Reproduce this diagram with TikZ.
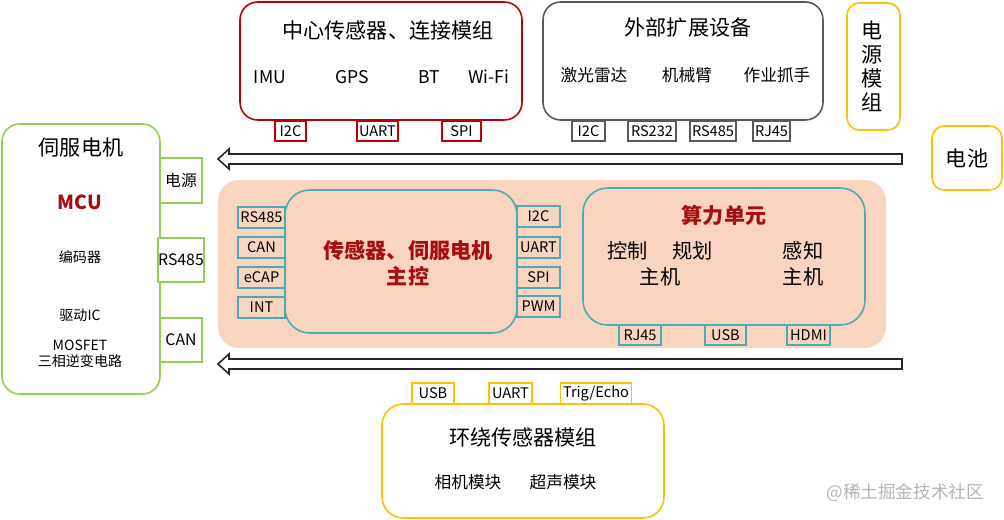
\documentclass[tikz,border=0pt]{standalone}
\usepackage{fontspec}
\setmainfont{Noto Sans CJK SC}
\usepackage{xcolor}
\usepackage{tikz}
\usetikzlibrary{calc,positioning}
\definecolor{servogreen}{HTML}{92D050}
\definecolor{sensred}{HTML}{C00000}
\definecolor{extgrey}{HTML}{595959}
\definecolor{pwryellow}{HTML}{FFC000}
\definecolor{ctrlteal}{HTML}{4AABB4}
\definecolor{peach}{HTML}{F9D4C0}
\definecolor{titlered}{HTML}{A50F0F}
\definecolor{markgrey}{HTML}{B4B4B4}
\tikzset{
  mainbox/.style  = {draw, line width=0.9pt, rounded corners=10pt, fill=white,
                     inner sep=0pt},
  portbox/.style  = {draw, line width=0.9pt, fill=white, inner sep=0pt,
                     font=\fontsize{8.3}{9}\selectfont, minimum height=0.4cm},
  bigtxt/.style   = {font=\fontsize{12}{13}\selectfont, align=center},
  itemtxt/.style  = {font=\fontsize{9.5}{10}\selectfont, align=center},
  smalltxt/.style = {font=\fontsize{8}{10}\selectfont, align=center},
  redtxt/.style   = {font=\fontsize{12}{15}\selectfont\bfseries, color=titlered, align=center},
  hollowarrow/.style = {draw=black!85, line width=0.9pt, fill=white, line join=miter},
}

\begin{document}
\begin{tikzpicture}[x=0.02cm, y=-0.02cm]
    \useasboundingbox (0,0) rectangle (1004,520);

    % servo
    \node[mainbox, draw=servogreen, minimum width=3.16cm, minimum height=5.4cm] (servo) at (81,259) {};
    \node[bigtxt] (servot) at (81,148) {伺服电机};
    \node[redtxt, font=\fontsize{11}{13}\selectfont\bfseries] (mcu) at (80,202) {MCU};
    \node[smalltxt] (enc) at (80,257) {编码器};
    \node[smalltxt] (drv) at (80,315) {驱动IC};
    \node[smalltxt, font=\fontsize{8}{9.2}\selectfont] (inv) at (80,354) {MOSFET\\三相逆变电路};
    \foreach \yy/\hh/\name/\lbl in {180.5/0.9/sp1/电源, 260/0.88/sp2/RS485, 340/0.88/sp3/CAN}
      {\node[portbox, draw=servogreen, minimum width=0.84cm, minimum height=\hh cm,
             font=\fontsize{9}{10}\selectfont] (\name) at (181,\yy) {\lbl};}

    % central sensors
    \node[mainbox, draw=sensred, minimum width=5.64cm, minimum height=2.36cm] (sens) at (381,61) {};
    \node[bigtxt] (senst) at (388,30) {中心传感器、连接模组};
    \foreach \xx/\lbl in {270/IMU, 352/GPS, 429/BT, 489/Wi-Fi}
      {\node[itemtxt, font=\fontsize{10}{11}\selectfont] at (\xx,77) {\lbl};}
    \foreach \xx/\ww/\name/\lbl in {290.5/0.62/sn1/I2C, 377.5/0.82/sn2/UART, 461.5/0.78/sn3/SPI}
      {\node[portbox, draw=sensred, minimum width=\ww cm] (\name) at (\xx,131) {\lbl};}

    % external devices
    \node[mainbox, draw=extgrey, minimum width=5.6cm, minimum height=2.36cm] (ext) at (683,61) {};
    \node[bigtxt] (extt) at (688,28) {外部扩展设备};
    \foreach \xx/\lbl in {594/激光雷达, 687/机械臂, 777/作业抓手}
      {\node[itemtxt] at (\xx,75) {\lbl};}
    \foreach \xx/\ww/\name/\lbl in {588.5/0.66/ex1/I2C, 652/0.96/ex2/RS232, 713/0.92/ex3/RS485, 771.5/0.74/ex4/RJ45}
      {\node[portbox, draw=extgrey, minimum width=\ww cm] (\name) at (\xx,131) {\lbl};}

    % power
    \node[mainbox, draw=pwryellow, minimum width=1.06cm, minimum height=2.54cm, rounded corners=7pt] (pwr) at (873.5,66.5) {};
    \node[bigtxt, font=\fontsize{12}{13.6}\selectfont] (pwrt) at (872,66) {电\\源\\模\\组};
    \node[mainbox, draw=pwryellow, minimum width=1.4cm, minimum height=1.28cm, rounded corners=7pt,
          font=\fontsize{12}{13}\selectfont] (batt) at (967,158) {电池};

    % hollow arrows
    \draw[hollowarrow] (218,159) -- (229,149) -- (229,154) -- (902,154) -- (902,164)
      -- (229,164) -- (229,169) -- cycle;
    \draw[hollowarrow] (218,364) -- (229,354) -- (229,359) -- (902,359) -- (902,369)
      -- (229,369) -- (229,374) -- cycle;

    % main board
    \node[draw=none, fill=peach, rounded corners=12pt, minimum width=13.36cm, minimum height=3.36cm] (board) at (552,264) {};
    \node[mainbox, draw=ctrlteal, fill=peach, minimum width=4.64cm, minimum height=2.86cm, rounded corners=14pt] (ctrl) at (401,261.5) {};
    \node[redtxt] (ctrlt) at (408,263) {传感器、伺服电机\\主控};
    \foreach \yy/\name/\lbl in {217.5/cl1/RS485, 247.5/cl2/CAN, 277.5/cl3/eCAP, 307.5/cl4/INT}
      {\node[portbox, draw=ctrlteal, fill=peach, minimum width=0.94cm, minimum height=0.42cm] (\name) at (261.5,\yy) {\lbl};}
    \foreach \yy/\name/\lbl in {216.5/cr1/I2C, 247.5/cr2/UART, 277.5/cr3/SPI, 306.5/cr4/PWM}
      {\node[portbox, draw=ctrlteal, fill=peach, minimum width=0.86cm, minimum height=0.42cm] (\name) at (538.5,\yy) {\lbl};}

    \node[mainbox, draw=ctrlteal, fill=peach, minimum width=5.64cm, minimum height=2.74cm, rounded corners=14pt] (comp) at (724,256.5) {};
    \node[redtxt] (compt) at (724,215) {算力单元};
    \node[bigtxt, font=\fontsize{11.5}{14.5}\selectfont] (plan) at (660,264) {控制\hspace{1.2em}规划\\主机};
    \node[bigtxt, font=\fontsize{11.5}{14.5}\selectfont] (perc) at (803,264) {感知\\主机};
    \foreach \xx/\ww/\name/\lbl in {640/0.84/cb1/RJ45, 725.5/0.82/cb2/USB, 808.5/0.86/cb3/HDMI}
      {\node[portbox, draw=ctrlteal, fill=peach, minimum width=\ww cm] (\name) at (\xx,335) {\lbl};}

    % surround sensors
    \node[mainbox, draw=pwryellow, minimum width=5.64cm, minimum height=2.28cm, rounded corners=12pt] (surr) at (523,461) {};
    \node[bigtxt] (surrt) at (523,437) {环绕传感器模组};
    \node[itemtxt] (cam) at (468,482) {相机模块};
    \node[itemtxt] (sonar) at (563,482) {超声模块};
    \foreach \xx/\ww/\name/\lbl in {433/0.84/sb1/USB, 510.5/0.86/sb2/UART, 596/1.42/sb3/{Trig/Echo}}
      {\node[portbox, draw=pwryellow, minimum width=\ww cm, minimum height=0.42cm] (\name) at (\xx,393.5) {\lbl};}

    \node[font=\fontsize{10}{12}\selectfont, color=markgrey, anchor=east] (mark) at (990,493) {@稀土掘金技术社区};
  \end{tikzpicture}
\end{document}
